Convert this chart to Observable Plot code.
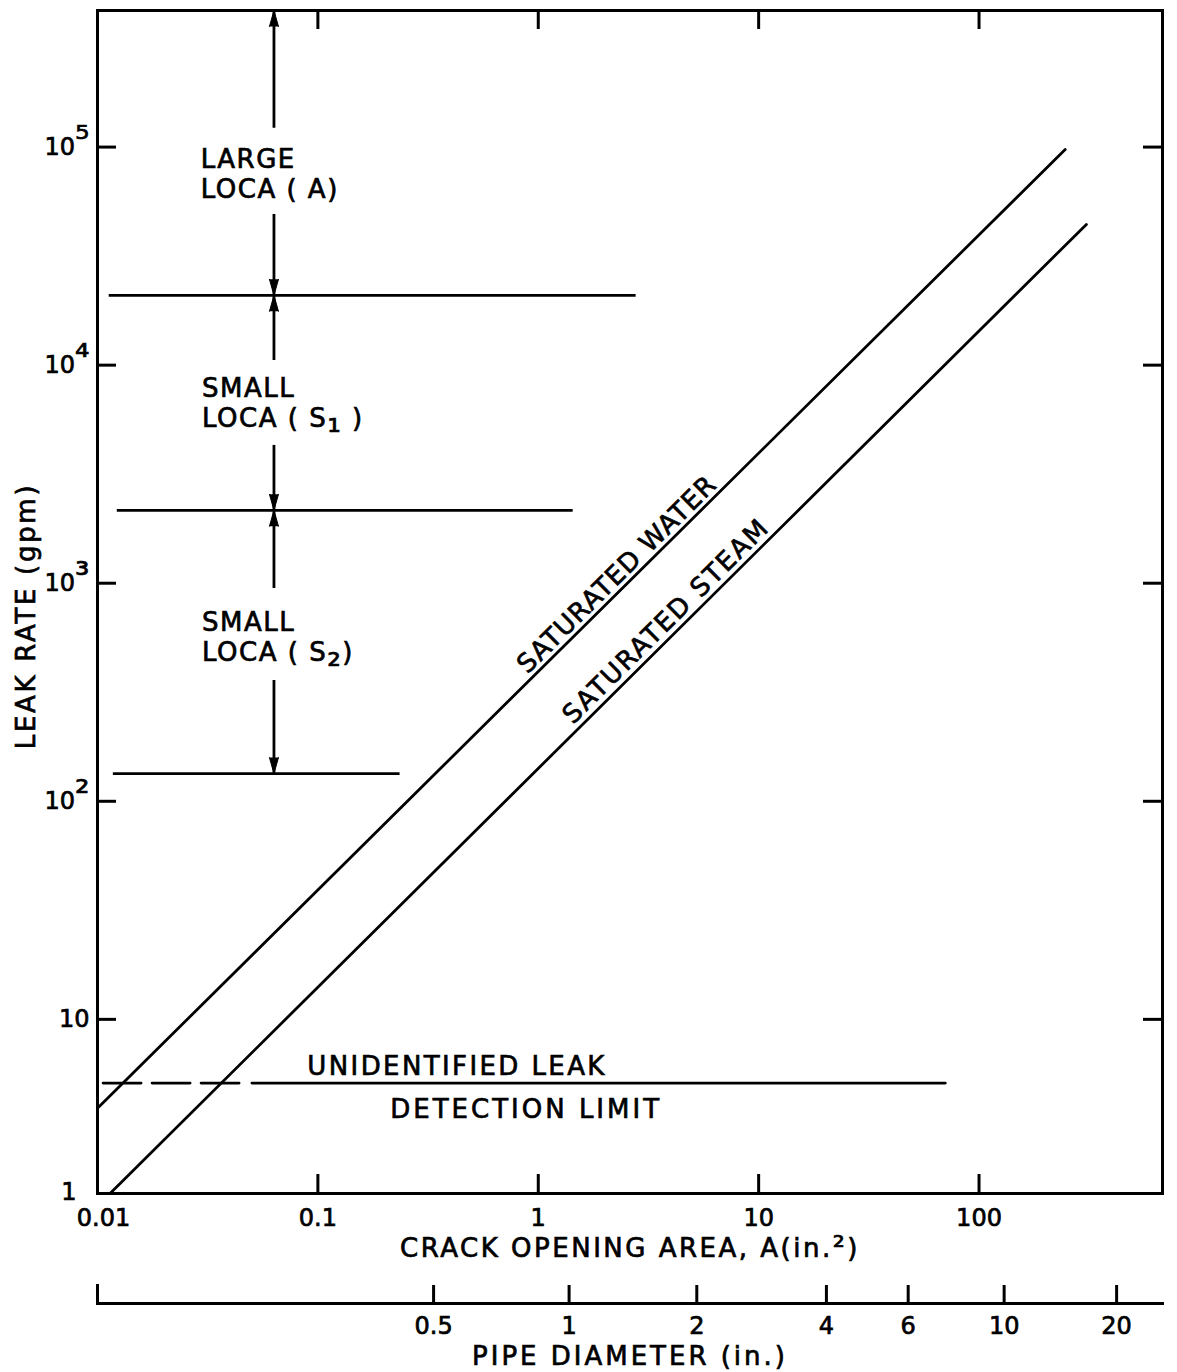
<!DOCTYPE html>
<html><head><meta charset="utf-8">
<script src="https://cdn.jsdelivr.net/npm/d3@7"></script>
<script src="https://cdn.jsdelivr.net/npm/@observablehq/plot@0.6"></script>
<style>
html,body{margin:0;padding:0;background:#fff;}
svg{display:block;}
svg text{stroke:black;stroke-width:0.7px;paint-order:stroke;}
</style></head><body><div id="chart"></div>
<script>
// ---- axis ticks ----
const xTicks = [0.01, 0.1, 1, 10, 100];
const xTickLabels = ["0.01", "0.1", "1", "10", "100"];
const yTicks = [10, 100, 1000, 10000, 100000];
const yTickLabels = ["10", "10²", "10³", "10⁴", "10⁵"];
const yBottomLabel = "1";
const xTitle = "CRACK OPENING AREA, A(in.²)";
const yTitle = "LEAK RATE (gpm)";

// ---- leak-rate curves (crack area in², leak rate gpm) ----
const waterArea = [0.01, 246];
const waterRate = [3.91, 97500];
const steamArea = [0.0114, 307];
const steamRate = [1.59, 44200];
const curveLabels = ["SATURATED WATER", "SATURATED STEAM"];
const curveLabelArea = [2.275, 3.80];
const curveLabelRate = [1097, 670];

// ---- LOCA band boundaries ----
const bandRates = [20900, 2160, 134];
const bandStartArea = [0.0113, 0.0123, 0.0118];
const bandEndArea = [2.78, 1.44, 0.236];
const arrowArea = 0.0632;
const arrowFrom = [122000, 49100, 10500, 4285, 946, 358];
const arrowTo = [423000, 20900, 20900, 2160, 2160, 134];
const regionLabels = ["LARGE\nLOCA ( A)", "SMALL\nLOCA ( S₁ )", "SMALL\nLOCA ( S₂)"];
const regionLabelArea = [0.0294, 0.0298, 0.0298];
const regionLabelRate = [75900, 6745, 570];

// ---- detection limit ----
const detectionRate = 5.1;
const detectionDashedArea = [0.0106, 0.0443];
const detectionSolidArea = [0.0502, 70.3];
const detectionLabels = ["UNIDENTIFIED LEAK", "DETECTION LIMIT"];
const detectionLabelArea = [0.428, 0.881];
const detectionLabelRate = [6.09, 3.86];

// ---- pipe diameter scale ----
const pipeDiameterLabels = ["0.5", "1", "2", "4", "6", "10", "20"];
const pipeDiameterArea = [0.335, 1.38, 5.24, 20.3, 47.7, 130, 421];
const pipeTitle = "PIPE DIAMETER (in.)";

const xDomain = [0.01, 680];
const yDomain = [1.59, 423000];

const W = 1177, H = 1270, mL = 97, mR = 15, mT = 10, mB = 77;
const frameW = W - mL - mR, frameH = H - mT - mB;
const tickLen = 19;
const font = "DejaVu Sans";
const lw = 2.8;

const toRows = (xs, ys) => xs.map((x, i) => ({x, y: ys[i]}));
const heads = arrowTo.map((t, i) => ({x: arrowArea, y: t, rot: t > arrowFrom[i] ? 0 : 180}));

const main = Plot.plot({
  width: W, height: H,
  marginLeft: mL, marginRight: mR, marginTop: mT, marginBottom: mB,
  x: {type: "log", domain: xDomain, axis: null},
  y: {type: "log", domain: yDomain, axis: null},
  style: {fontFamily: font, fontSize: "24px", color: "black", background: "white"},
  marks: [
    Plot.frame({stroke: "black", strokeWidth: 3}),
    // inward ticks
    Plot.ruleX(xTicks.slice(1), {x: d => d, insetTop: frameH - tickLen, strokeWidth: 3}),
    Plot.ruleX(xTicks.slice(1), {x: d => d, insetBottom: frameH - tickLen, strokeWidth: 3}),
    Plot.ruleY(yTicks, {y: d => d, insetRight: frameW - tickLen, strokeWidth: 3}),
    Plot.ruleY(yTicks, {y: d => d, insetLeft: frameW - tickLen, strokeWidth: 3}),
    // tick labels
    Plot.text(xTicks.slice(0, 1), {x: d => d, text: () => xTickLabels[0], frameAnchor: "bottom", lineAnchor: "middle", dy: 25, dx: 6, fontSize: 24}),
    Plot.text(xTicks.slice(1), {x: d => d, text: (d, i) => xTickLabels[i + 1], frameAnchor: "bottom", lineAnchor: "middle", dy: 25, fontSize: 24}),
    Plot.text(yTicks, {y: d => d, text: (d, i) => yTickLabels[i], frameAnchor: "left", textAnchor: "end", lineAnchor: "middle", dx: -8, fontSize: 24}),
    Plot.text([yBottomLabel], {frameAnchor: "bottom-left", textAnchor: "end", lineAnchor: "middle", dx: -21, dy: -1, fontSize: 24}),
    // axis titles
    Plot.text([xTitle], {frameAnchor: "bottom", lineAnchor: "middle", dy: 55, fontSize: 26}),
    Plot.text([yTitle], {frameAnchor: "left", textAnchor: "middle", lineAnchor: "middle", rotate: -90, dx: -71, dy: 14, fontSize: 26}),
    // curves
    Plot.line(toRows(waterArea, waterRate), {x: "x", y: "y", strokeWidth: lw}),
    Plot.line(toRows(steamArea, steamRate), {x: "x", y: "y", strokeWidth: lw}),
    Plot.text(curveLabels, {x: (d, i) => curveLabelArea[i], y: (d, i) => curveLabelRate[i], text: d => d, rotate: -44.7, fontSize: 26}),
    // LOCA bands
    Plot.ruleY(bandRates, {y: d => d, x1: (d, i) => bandStartArea[i], x2: (d, i) => bandEndArea[i], strokeWidth: lw}),
    Plot.ruleX(arrowFrom, {x: () => arrowArea, y1: d => d, y2: (d, i) => arrowTo[i], strokeWidth: lw}),
    Plot.vector(heads, {x: "x", y: "y", rotate: "rot", length: 16, r: 4.5, shape: "spike", anchor: "end", fill: "black", stroke: "black", strokeWidth: 1}),
    Plot.text(regionLabels, {x: (d, i) => regionLabelArea[i], y: (d, i) => regionLabelRate[i], text: d => d, textAnchor: "start", lineAnchor: "middle", lineHeight: 1.15, fontSize: 26}),
    // detection limit
    Plot.line(detectionDashedArea, {x: d => d, y: () => detectionRate, strokeWidth: lw, strokeDasharray: "38,11"}),
    Plot.line(detectionSolidArea, {x: d => d, y: () => detectionRate, strokeWidth: lw}),
    Plot.text(detectionLabels, {x: (d, i) => detectionLabelArea[i], y: (d, i) => detectionLabelRate[i], text: d => d, fontSize: 26})
  ]
});

const pipe = Plot.plot({
  width: W, height: 102,
  marginLeft: mL, marginRight: mR, marginTop: 15, marginBottom: 69,
  x: {type: "log", domain: xDomain, axis: null},
  style: {fontFamily: font, fontSize: "24px", color: "black", background: "white"},
  marks: [
    Plot.frame({anchor: "bottom", stroke: "black", strokeWidth: 3}),
    Plot.frame({anchor: "left", stroke: "black", strokeWidth: 3}),
    Plot.ruleX(pipeDiameterArea, {x: d => d, strokeWidth: 3}),
    Plot.text(pipeDiameterArea, {x: d => d, text: (d, i) => pipeDiameterLabels[i], frameAnchor: "bottom", lineAnchor: "middle", dy: 23, fontSize: 24}),
    Plot.text([pipeTitle], {frameAnchor: "bottom", lineAnchor: "middle", dy: 53, fontSize: 26})
  ]
});

// letter spacing of hand-lettered labels
const spacing = new Map([
  [xTitle, 2.5], [yTitle, 2.7], [pipeTitle, 3],
  [curveLabels[0], 1.1], [curveLabels[1], 1.9],
  [detectionLabels[0], 2.4], [detectionLabels[1], 3],
  ...regionLabels.map(l => [l.replace("\n", ""), 1.5])
]);

// enlarge super/subscript glyphs to match the lettering: [font size, baseline shift]
const tickScripts = {"²": [36, -4], "³": [36, -4], "⁴": [36, -4], "⁵": [36, -4]};
const titleScripts = {"²": [30, 0]};
const subScripts = {"₁": [34, 5], "₂": [34, 5]};
function enlargeScripts(el, table) {
  for (const node of Array.from(el.childNodes)) {
    if (node.nodeType === 1) { enlargeScripts(node, table); continue; }
    if (node.nodeType !== 3 || ![...node.nodeValue].some(c => table[c])) continue;
    const frag = document.createDocumentFragment();
    let pendingReset = 0;
    for (const ch of node.nodeValue) {
      const t = document.createElementNS("http://www.w3.org/2000/svg", "tspan");
      t.textContent = ch;
      if (table[ch]) {
        const [size, shift] = table[ch];
        t.setAttribute("font-size", size);
        if (shift) { t.setAttribute("dy", shift); pendingReset = -shift; }
      } else if (pendingReset) {
        t.setAttribute("dy", pendingReset); pendingReset = 0;
      }
      frag.appendChild(t);
    }
    el.replaceChild(frag, node);
  }
}

for (const svg of [main, pipe]) {
  d3.select(svg).selectAll("text").each(function () {
    const txt = this.textContent;
    const s = spacing.get(txt);
    if (s != null) this.setAttribute("letter-spacing", s + "px");
    if (txt === xTitle) enlargeScripts(this, titleScripts);
    else if (yTickLabels.includes(txt)) enlargeScripts(this, tickScripts);
    else enlargeScripts(this, subScripts);
  });
}

const root = document.getElementById("chart");
root.appendChild(main);
root.appendChild(pipe);
</script></body></html>
